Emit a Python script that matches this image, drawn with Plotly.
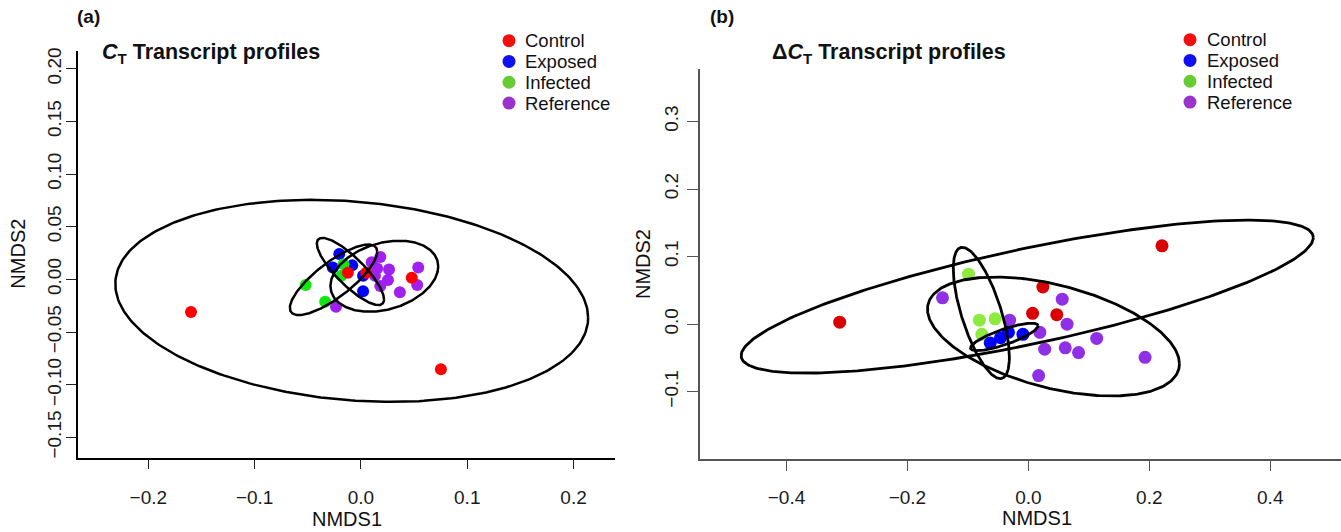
import numpy as np
import plotly.graph_objects as go

W, H = 1341, 532

GROUPS = ["Control", "Exposed", "Infected", "Reference"]

# ---------------- Panel (a): C_T transcript profiles ----------------
A_CONTROL_X = [-0.1599, 0.0752, -0.0123, 0.0050, 0.0478]
A_CONTROL_Y = [-0.0310, -0.0853, 0.0064, 0.0064, 0.0015]
A_EXPOSED_X = [-0.0204, -0.0265, -0.0082, 0.0020, 0.0020]
A_EXPOSED_Y = [0.0242, 0.0114, 0.0133, 0.0035, -0.0113]
A_INFECTED_X = [-0.0164, -0.0184, -0.0520, -0.0337]
A_INFECTED_Y = [0.0143, 0.0035, -0.0054, -0.0212]
A_REFERENCE_X = [-0.0235, 0.0182, 0.0101, 0.0152, 0.0264, 0.0132, 0.0254, 0.0182, 0.0366, 0.0539, 0.0529]
A_REFERENCE_Y = [-0.0261, 0.0212, 0.0163, 0.0104, 0.0094, 0.0035, -0.0005, -0.0064, -0.0123, 0.0114, -0.0054]

# ellipse parameters (centre, spread in x, spread in y, correlation), per group
A_ELL_CX = [-0.0087, -0.0099, -0.0258, 0.0220]
A_ELL_CY = [-0.0204, 0.0075, -0.0004, 0.0030]
A_ELL_SX = [0.2224, 0.0316, 0.0411, 0.0507]
A_ELL_SY = [0.0959, 0.0319, 0.0335, 0.0337]
A_ELL_R = [-0.167, -0.83, 0.795, 0.275]

A_XTICKS = [-0.2, -0.1, 0.0, 0.1, 0.2]
A_YTICKS = [-0.15, -0.10, -0.05, 0.00, 0.05, 0.10, 0.15, 0.20]

# ---------------- Panel (b): ΔC_T transcript profiles ----------------
B_CONTROL_X = [-0.312, 0.221, 0.024, 0.007, 0.047]
B_CONTROL_Y = [0.003, 0.116, 0.055, 0.016, 0.014]
B_EXPOSED_X = [-0.063, -0.046, -0.033, -0.009]
B_EXPOSED_Y = [-0.028, -0.020, -0.012, -0.015]
B_INFECTED_X = [-0.099, -0.081, -0.055, -0.077]
B_INFECTED_Y = [0.074, 0.006, 0.008, -0.015]
B_REFERENCE_X = [-0.142, 0.056, -0.031, 0.064, 0.019, 0.113, 0.027, 0.061, 0.083, 0.193, 0.017]
B_REFERENCE_Y = [0.039, 0.037, 0.006, 0.000, -0.012, -0.021, -0.037, -0.035, -0.042, -0.049, -0.076]

B_ELL_CX = [-0.0019, -0.0398, -0.0778, 0.0415]
B_ELL_CY = [0.0408, -0.0188, 0.0166, -0.0182]
B_ELL_SX = [0.4731, 0.0559, 0.0464, 0.2083]
B_ELL_SY = [0.1132, 0.0203, 0.0972, 0.0880]
B_ELL_R = [0.771, 0.805, -0.674, -0.46]

B_XTICKS = [-0.4, -0.2, 0.0, 0.2, 0.4]
B_YTICKS = [-0.1, 0.0, 0.1, 0.2, 0.3]

A_COLORS = {"Control": "#FF0000", "Exposed": "#0000FF", "Infected": "#11E611", "Reference": "#A020F0"}
B_COLORS = {"Control": "#D90000", "Exposed": "#0000FF", "Infected": "#8CEB3C", "Reference": "#9030E6"}
LEG_COLORS = {"Control": "#F01010", "Exposed": "#1010F0", "Infected": "#66CC33", "Reference": "#9933CC"}

FONT = "Liberation Sans, Arial, Helvetica, sans-serif"

fig = go.Figure()

a_pts = {
    "Control": (A_CONTROL_X, A_CONTROL_Y),
    "Exposed": (A_EXPOSED_X, A_EXPOSED_Y),
    "Infected": (A_INFECTED_X, A_INFECTED_Y),
    "Reference": (A_REFERENCE_X, A_REFERENCE_Y),
}
b_pts = {
    "Control": (B_CONTROL_X, B_CONTROL_Y),
    "Exposed": (B_EXPOSED_X, B_EXPOSED_Y),
    "Infected": (B_INFECTED_X, B_INFECTED_Y),
    "Reference": (B_REFERENCE_X, B_REFERENCE_Y),
}

for g in ["Reference", "Exposed", "Infected", "Control"]:
    xs, ys = a_pts[g]
    fig.add_trace(go.Scatter(x=xs, y=ys, mode="markers", xaxis="x", yaxis="y",
                             marker=dict(color=A_COLORS[g], size=12, line=dict(width=0)),
                             showlegend=False, name=g))
for g in ["Reference", "Infected", "Exposed", "Control"]:
    xs, ys = b_pts[g]
    fig.add_trace(go.Scatter(x=xs, y=ys, mode="markers", xaxis="x2", yaxis="y2",
                             marker=dict(color=B_COLORS[g], size=13, line=dict(width=0)),
                             showlegend=False, name=g))

t = np.linspace(0, 2 * np.pi, 300)


def ellipse(cx, cy, sx, sy, r):
    ex = cx + sx * np.cos(t)
    ey = cy + sy * (r * np.cos(t) + np.sqrt(1 - r * r) * np.sin(t))
    return ex, ey


for i in range(4):
    ex, ey = ellipse(A_ELL_CX[i], A_ELL_CY[i], A_ELL_SX[i], A_ELL_SY[i], A_ELL_R[i])
    fig.add_trace(go.Scatter(x=ex, y=ey, mode="lines", xaxis="x", yaxis="y",
                             line=dict(color="black", width=2.5), showlegend=False,
                             hoverinfo="skip"))
    ex, ey = ellipse(B_ELL_CX[i], B_ELL_CY[i], B_ELL_SX[i], B_ELL_SY[i], B_ELL_R[i])
    fig.add_trace(go.Scatter(x=ex, y=ey, mode="lines", xaxis="x2", yaxis="y2",
                             line=dict(color="black", width=2.8), showlegend=False,
                             hoverinfo="skip"))


def px(x):
    return x / W


def py(y):
    return 1 - y / H


tickfont = dict(family=FONT, size=19, color="#1a1a1a")

fig.update_layout(
    width=W, height=H, autosize=False,
    margin=dict(l=0, r=0, t=0, b=0),
    paper_bgcolor="white", plot_bgcolor="white",
    showlegend=False,
    font=dict(family=FONT, color="#111111"),
    xaxis=dict(domain=[px(78), px(615)], range=[-0.2662, 0.2390], anchor="y",
               tickvals=A_XTICKS, tickformat=".1f", ticks="outside", ticklen=10,
               tickwidth=1.3, tickcolor="#222", showline=True, linecolor="black",
               linewidth=1.5, showgrid=False, zeroline=False, tickfont=tickfont,
               ticklabelstandoff=12),
    yaxis=dict(domain=[py(458), py(47.6)], range=[-0.1693, 0.2167], anchor="x",
               tickvals=A_YTICKS, tickformat=".2f", ticks="outside", ticklen=10,
               tickwidth=1.3, tickcolor="#222", showline=True, linecolor="black",
               linewidth=1.5, showgrid=False, zeroline=False, tickfont=tickfont,
               tickangle=-90, ticklabelstandoff=-2),
    xaxis2=dict(domain=[px(700), 1.0], range=[-0.543, 0.517], anchor="y2",
                tickvals=B_XTICKS, tickformat=".1f", ticks="outside", ticklen=10,
                tickwidth=1.3, tickcolor="#555", showline=True, linecolor="#555",
                linewidth=2, showgrid=False, zeroline=False, tickfont=tickfont,
                ticklabelstandoff=11),
    yaxis2=dict(domain=[py(459), py(66)], range=[-0.199, 0.377], anchor="x2",
                tickvals=B_YTICKS, tickformat=".1f", ticks="outside", ticklen=11,
                tickwidth=1.3, tickcolor="#555", showline=True, linecolor="#555",
                linewidth=2, showgrid=False, zeroline=False, tickfont=tickfont,
                tickangle=-90, ticklabelstandoff=1),
)

ann = []
shapes = []
titlefont = dict(family=FONT, size=20, color="#111")
# axis titles
ann.append(dict(x=px(18), y=py(252), xref="paper", yref="paper", text="NMDS2",
                textangle=-90, showarrow=False, font=titlefont, xanchor="center", yanchor="middle"))
ann.append(dict(x=px(347), y=py(520), xref="paper", yref="paper", text="NMDS1",
                showarrow=False, font=titlefont, xanchor="center", yanchor="middle"))
ann.append(dict(x=px(643), y=py(262.5), xref="paper", yref="paper", text="NMDS2",
                textangle=-90, showarrow=False, font=titlefont, xanchor="center", yanchor="middle"))
ann.append(dict(x=px(1037), y=py(519), xref="paper", yref="paper", text="NMDS1",
                showarrow=False, font=titlefont, xanchor="center", yanchor="middle"))
# panel letters
boldfont = dict(family=FONT, size=19, color="#111")
ann.append(dict(x=px(75), y=py(13), xref="paper", yref="paper", text="<b>(a)</b>",
                showarrow=False, font=boldfont, xanchor="left", yanchor="middle"))
ann.append(dict(x=px(708), y=py(13), xref="paper", yref="paper", text="<b>(b)</b>",
                showarrow=False, font=boldfont, xanchor="left", yanchor="middle"))
# panel titles
ann.append(dict(x=px(100), y=py(50), xref="paper", yref="paper",
                text="<b><i>C</i><sub>T</sub> Transcript profiles</b>",
                showarrow=False, font=dict(family=FONT, size=21.5, color="#111"),
                xanchor="left", yanchor="middle"))
ann.append(dict(x=px(770), y=py(50), xref="paper", yref="paper",
                text="<b>Δ<i>C</i><sub>T</sub> Transcript profiles</b>",
                showarrow=False, font=dict(family=FONT, size=21.5, color="#111"),
                xanchor="left", yanchor="middle"))

# legends
LEG_ROWS_A = [37, 58, 79, 100]
LEG_ROWS_B = [36, 57, 78, 99]
legfont = dict(family=FONT, size=18.5, color="#111")
for dot_x, text_x, rows in [(509, 523, LEG_ROWS_A), (1190, 1205, LEG_ROWS_B)]:
    for g, ry in zip(GROUPS, rows):
        shapes.append(dict(type="circle", xref="paper", yref="paper",
                           xsizemode="pixel", ysizemode="pixel",
                           xanchor=px(dot_x), yanchor=py(ry),
                           x0=-6.5, x1=6.5, y0=-6.5, y1=6.5,
                           fillcolor=LEG_COLORS[g], line=dict(width=0)))
        ann.append(dict(x=px(text_x), y=py(ry), xref="paper", yref="paper", text=g,
                        showarrow=False, font=legfont, xanchor="left", yanchor="middle"))

fig.update_layout(annotations=ann, shapes=shapes)

fig.write_html(
    "out.html",
    config={"displayModeBar": False},
    post_script="document.body.style.margin='0';document.body.style.padding='0';"
                "document.body.style.overflow='hidden';",
)
